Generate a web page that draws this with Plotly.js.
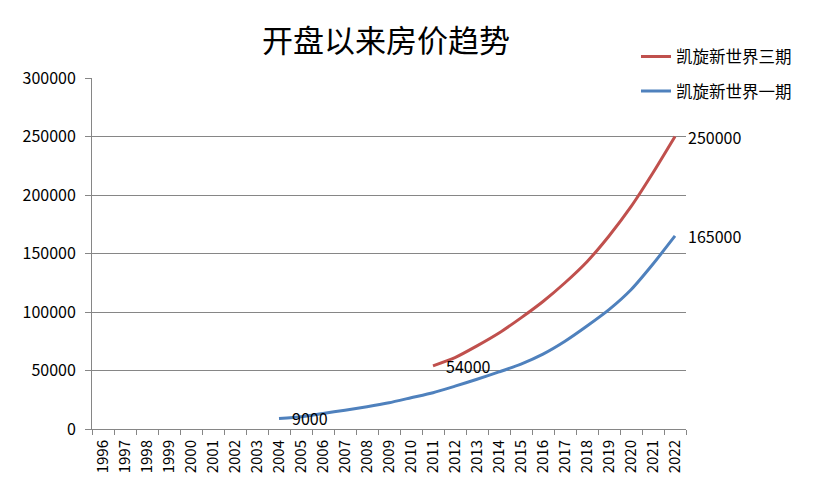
<!DOCTYPE html>
<html>
<head>
<meta charset="utf-8">
<script src="https://cdn.plot.ly/plotly-3.0.1.min.js"></script>
<style>
  html, body { margin: 0; padding: 0; background: #fff; }
  #chart { width: 815px; height: 495px; }
</style>
</head>
<body>
<div id="chart"></div>
<script>
// Years on the category axis
const years = [
  "1996", "1997", "1998", "1999", "2000", "2001", "2002", "2003", "2004",
  "2005", "2006", "2007", "2008", "2009", "2010", "2011", "2012", "2013",
  "2014", "2015", "2016", "2017", "2018", "2019", "2020", "2021", "2022",
];

// 凯旋新世界一期 (blue), no data before 2004
const phase1 = [
  null, null, null, null, null, null, null, null, 9000,
  10500, 13300, 16100, 19000, 22400, 26700, 31000, 36600, 42500,
  48800, 55500, 64000, 75000, 88000, 102000, 119000, 141000, 165000,
];

// 凯旋新世界三期 (red), no data before 2011
const phase3 = [
  null, null, null, null, null, null, null, null, null,
  null, null, null, null, null, null, 54000, 61000, 71000,
  82000, 95000, 109000, 125000, 143000, 165000, 190000, 219000, 250000,
];

const seriesNames = ["凯旋新世界三期", "凯旋新世界一期"];
const seriesColors = ["#C0504D", "#4F81BD"];

const yTicks = [0, 50000, 100000, 150000, 200000, 250000, 300000];

const numFont = "Noto Sans CJK SC, DejaVu Sans, sans-serif";

let traces = [phase3, phase1].map(function (vals, i) {
  return {
    x: years,
    y: vals,
    type: "scatter",
    mode: "lines",
    name: seriesNames[i],
    legendgroup: "g" + i,
    line: { color: seriesColors[i], width: 3, shape: "spline", smoothing: 0.6 },
    connectgaps: false,
    hoverinfo: "x+y",
  };
});

// Data labels at first and last point of each series
let annotations = [];
[phase3, phase1].forEach(function (vals) {
  let first = vals.findIndex((v) => v !== null);
  let last = vals.length - 1;
  [first, last].forEach(function (k) {
    annotations.push({
      x: k,
      y: vals[k],
      xref: "x",
      yref: "y",
      text: String(vals[k]),
      showarrow: false,
      xanchor: "left",
      yanchor: "middle",
      xshift: 11,
      font: { family: numFont, size: 16, color: "#000" },
    });
  });
});

let layout = {
  width: 815,
  height: 495,
  paper_bgcolor: "#fff",
  plot_bgcolor: "#fff",
  margin: { l: 92, r: 129, t: 78, b: 66 },
  title: {
    text: "开盘以来房价趋势",
    font: { family: numFont, size: 31, color: "#000" },
    xref: "container",
    x: 0.4736,
    xanchor: "center",
    yref: "container",
    y: 1 - 41.5 / 495,
    yanchor: "middle",
  },
  xaxis: {
    type: "category",
    categoryorder: "array",
    categoryarray: years,
    range: [-0.5, years.length - 0.5],
    tickson: "boundaries",
    ticks: "outside",
    ticklen: 5,
    tickcolor: "#868686",
    tickangle: -90,
    ticklabelstandoff: 4,
    tickfont: { family: numFont, size: 15, color: "#000" },
    showgrid: false,
    zeroline: false,
    showline: true,
    linecolor: "#868686",
    linewidth: 1,
  },
  yaxis: {
    range: [0, 300000],
    tickvals: yTicks,
    tickformat: "d",
    ticks: "outside",
    ticklen: 6,
    tickcolor: "#868686",
    ticklabelstandoff: 6,
    tickfont: { family: numFont, size: 16, color: "#000" },
    showgrid: true,
    gridcolor: "#868686",
    gridwidth: 1,
    zeroline: false,
    showline: true,
    linecolor: "#868686",
    linewidth: 1,
  },
  showlegend: true,
  legend: {
    x: 0.9158,
    xanchor: "left",
    y: 1.11,
    yanchor: "top",
    bgcolor: "rgba(0,0,0,0)",
    borderwidth: 0,
    tracegroupgap: 10,
    font: { family: numFont, size: 16.5, color: "#000" },
  },
  annotations: annotations,
};

Plotly.newPlot("chart", traces, layout, { displayModeBar: false, staticPlot: true });
</script>
</body>
</html>
